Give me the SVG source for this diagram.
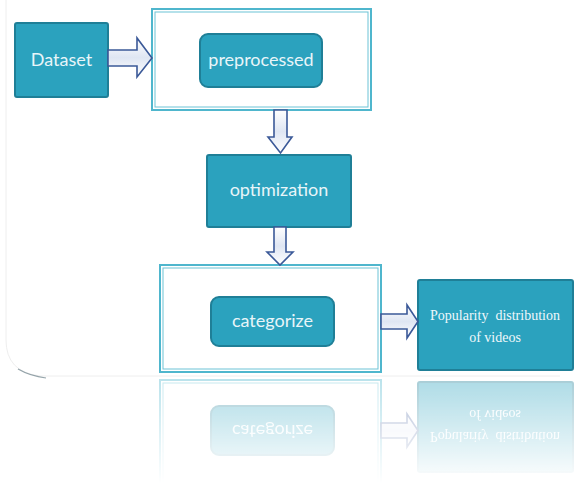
<svg xmlns="http://www.w3.org/2000/svg" width="574" height="484" viewBox="0 0 574 484">
<defs>
<style>
.box{fill:#2ba2be;stroke:#1f7f97;stroke-width:2}
.frameO{fill:#ffffff;stroke:#4fb6cd;stroke-width:2}
.frameI{fill:none;stroke:#6cc3d6;stroke-width:1}
.lbl{font-family:Lato,"Open Sans",sans-serif;font-size:18px;fill:#e8f5f9;text-anchor:middle}
.ser{font-family:"Liberation Serif","Times New Roman",serif;font-size:14px;fill:#f0f8fb;text-anchor:middle}
.arr{fill:url(#arrFill);stroke:#3b5998;stroke-width:1.6;stroke-linejoin:miter}
</style>
<linearGradient id="arrFill" x1="0" y1="0" x2="0" y2="1">
<stop offset="0" stop-color="#ffffff"/>
<stop offset="0.5" stop-color="#dfe6f3"/>
<stop offset="1" stop-color="#ffffff"/>
</linearGradient>
<linearGradient id="fade" gradientUnits="userSpaceOnUse" x1="0" y1="376" x2="0" y2="484">
<stop offset="0" stop-color="#ffffff" stop-opacity="0.4"/>
<stop offset="1" stop-color="#ffffff" stop-opacity="0"/>
</linearGradient>
<mask id="reflMask" maskUnits="userSpaceOnUse" x="0" y="376" width="574" height="108">
<rect x="0" y="376" width="574" height="108" fill="url(#fade)"/>
</mask>
</defs>
<rect x="0" y="0" width="574" height="484" fill="#ffffff"/>
<path d="M6,0 L6,340 Q6,372 40,376 L560,376" fill="none" stroke="#eeeeee" stroke-width="1"/>
<path d="M18,369 Q30,376 46,378" fill="none" stroke="#6a7f88" stroke-width="1.2" opacity="0.7"/>

<g id="frame1">
<rect class="frameO" x="152" y="9" width="219" height="101"/>
<rect class="frameI" x="155" y="12" width="213" height="95"/>
</g>

<g id="dataset">
<rect class="box" x="15" y="23" width="93" height="74" rx="2"/>
<text class="lbl" x="61.5" y="66">Dataset</text>
</g>
<g id="preprocessed">
<rect class="box" x="200" y="34" width="122" height="53" rx="8"/>
<text class="lbl" x="261" y="66">preprocessed</text>
</g>
<g id="optimization">
<rect class="box" x="207" y="155" width="144" height="72" rx="2"/>
<text class="lbl" x="279" y="196">optimization</text>
</g>

<g id="bottomPart">
<g id="frame2">
<rect class="frameO" x="160" y="265" width="221" height="107"/>
<rect class="frameI" x="163" y="268" width="215" height="101"/>
</g>
<g id="categorize">
<rect class="box" x="211" y="297" width="123" height="49" rx="8"/>
<text class="lbl" x="272.5" y="327">categorize</text>
</g>
<g id="popularity">
<rect class="box" x="418" y="280" width="155" height="90" rx="2"/>
<text class="ser" x="495" y="320" xml:space="preserve">Popularity  distribution</text>
<text class="ser" x="495" y="342">of videos</text>
</g>
<g id="bottomArrow">
<polygon class="arr" points="381,314 407,314 407,305 418,321.5 407,338 407,329 381,329"/>
</g>
</g>

<g id="connectors">
<polygon class="arr" points="108,50 137,50 137,38 152,58 137,77 137,66 108,66"/>
<polygon class="arr" points="274,110 287,110 287,137 292,137 280.5,153 268,137 274,137"/>
<polygon class="arr" points="274,227 286,227 286,252 293,252 280,265 267,252 274,252"/>
</g>

<g id="reflection" mask="url(#reflMask)">
<use href="#bottomPart" transform="translate(0,752) scale(1,-1)"/>
</g>
</svg>
